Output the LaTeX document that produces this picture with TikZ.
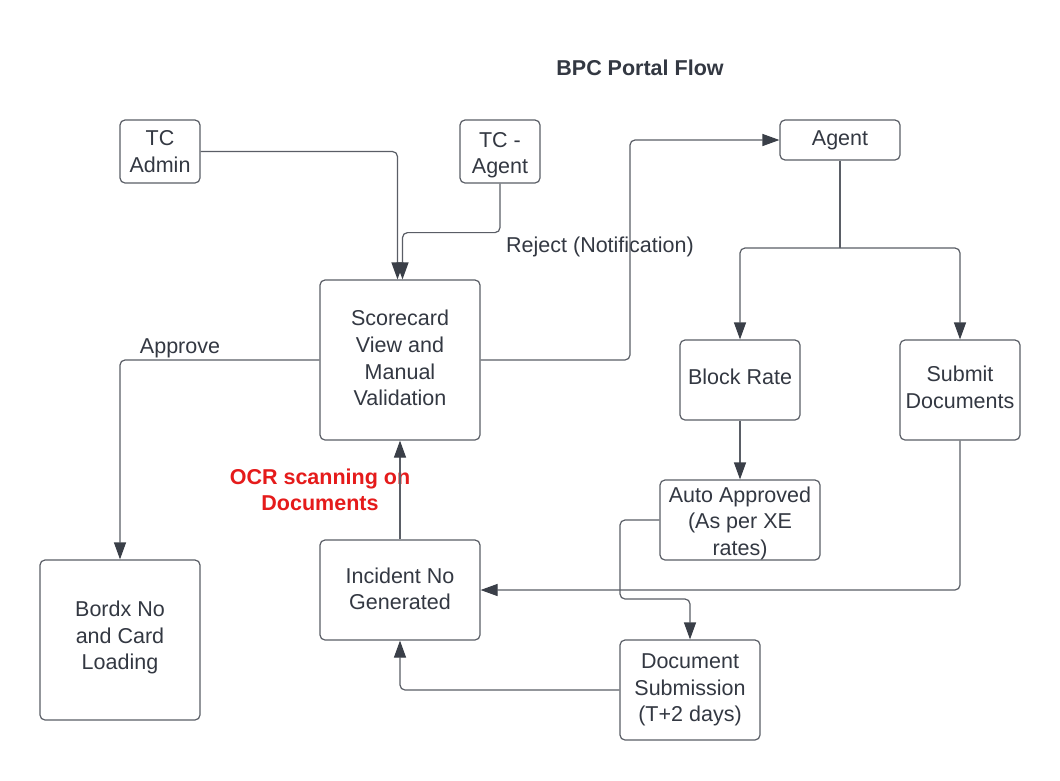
\documentclass[tikz,border=0pt]{standalone}
\usepackage{fontspec}
\setmainfont{Liberation Sans}
\usetikzlibrary{arrows.meta}
\definecolor{txt}{HTML}{333842}
\definecolor{ln}{HTML}{5A5E66}
\definecolor{arr}{HTML}{3A3F48}
\definecolor{ocr}{HTML}{E51B1B}
\newcommand{\upby}[1]{\rule[-#1]{0pt}{0pt}}
\newcommand{\dnby}[1]{\rule{0pt}{#1}}
\begin{document}
\begin{tikzpicture}[x=1pt,y=-1pt,
  box/.style={draw=ln, line width=1.2pt, rounded corners=5pt, align=center, text=txt, inner sep=0pt,
    font=\fontsize{21.5}{26.6}\selectfont},
  conn/.style={draw=ln, line width=1.2pt, rounded corners=5pt, -{Triangle[length=17pt,width=12pt,color=arr,sharp]}},
  plain/.style={draw=ln, line width=1.2pt, rounded corners=5pt},
  lbl/.style={text=txt, inner sep=0pt, font=\fontsize{21.5}{26.6}\selectfont, align=center},
  ]
\useasboundingbox (0,0) rectangle (1060,780);
\fill[white] (0,0) rectangle (1060,780);

\node[lbl, font=\bfseries\fontsize{21.5}{26.6}\selectfont] (title) at (640,68) {BPC Portal Flow};

\node[box, minimum width=80pt, minimum height=63pt] (tcadmin) at (160,151.5) {TC\\Admin};
\node[box, minimum width=80pt, minimum height=63pt] (tcagent) at (500,151.5) {\dnby{22.5pt}TC -\\Agent};
\node[box, minimum width=120pt, minimum height=40pt] (agent) at (840,140) {Agent};
\node[box, minimum width=160pt, minimum height=160pt] (score) at (400,360) {Scorecard\\View and\\Manual\\Validation\upby{4pt}};
\node[box, minimum width=120pt, minimum height=80pt] (block) at (740,380) {Block Rate\upby{6pt}};
\node[box, minimum width=120pt, minimum height=100pt] (submit) at (960,390) {Submit\\Documents\upby{6pt}};
\node[box, minimum width=160pt, minimum height=80pt] (auto) at (740,520) {\dnby{22pt}Auto Approved\\(As per XE\\rates)};
\node[box, minimum width=160pt, minimum height=160pt] (bordx) at (120,640) {Bordx No\\and Card\\Loading\upby{9.5pt}};
\node[box, minimum width=160pt, minimum height=100pt] (incident) at (400,590) {Incident No\\Generated\upby{3pt}};
\node[box, minimum width=140pt, minimum height=100pt] (docsub) at (690,690) {Document\\Submission\\(T+2 days)};

\node[lbl] (rejectlbl) at (600,247) {Reject (Notification)};
\node[lbl] (approvelbl) at (180,348) {Approve};
\node[lbl, text=ocr, font=\bfseries\fontsize{21.5}{26.6}\selectfont] (ocrlbl) at (320,490) {OCR scanning on\\Documents};

\coordinate (split) at (840,248);
\coordinate (rejx) at (630,250);
\coordinate (autox) at (620,599);

\draw[conn] (tcadmin.east) -| ([xshift=-2.5pt]score.north);
\draw[conn] (tcagent.south) -- ++(0,49) -| ([xshift=2.5pt]score.north);
\draw[conn] (score.east) -| (rejx) |- (agent.west);
\draw[conn] (score.west) -| (bordx.north);
\draw[plain] (agent.south) -- (split);
\draw[conn] (split) -| (block.north);
\draw[conn] (split) -| (submit.north);
\draw[conn] (block.south) -- (auto.north);
\draw[conn] (auto.west) -| (autox) -| (docsub.north);
\draw[conn] (submit.south) |- (incident.east);
\draw[conn] (docsub.west) -| (incident.south);
\draw[conn] (incident.north) -- (score.south);
\end{tikzpicture}
\end{document}
